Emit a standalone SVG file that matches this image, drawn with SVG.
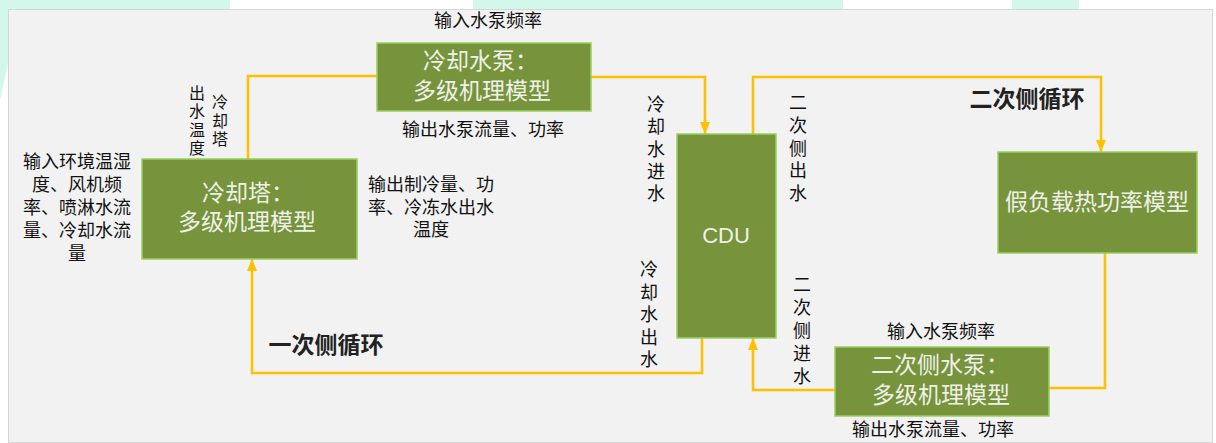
<svg xmlns="http://www.w3.org/2000/svg" width="1216" height="443" viewBox="0 0 1216 443">
  <defs>
    <style>
      .node { fill: #77933c; stroke: #9bd060; stroke-width: 1.5; }
      .nt { font-family: "Liberation Sans", "Noto Sans CJK SC", sans-serif; font-size: 23px; fill: #eef1e8; dominant-baseline: central; }
      .lbl { font-family: "Liberation Sans", "Noto Sans CJK SC", sans-serif; font-size: 18px; fill: #111; dominant-baseline: central; text-anchor: middle; }
      .sm { font-size: 16px; }
      .loop { font-family: "Liberation Sans", "Noto Sans CJK SC", sans-serif; font-size: 23px; font-weight: bold; fill: #222; dominant-baseline: central; text-anchor: middle; }
      .conn { fill: none; stroke: #ffc000; stroke-width: 2.5; }
    </style>
    <marker id="arr" markerUnits="userSpaceOnUse" markerWidth="12" markerHeight="12" refX="12" refY="5" orient="auto">
      <path d="M0,0 L12,5 L0,10 z" fill="#ffc000"/>
    </marker>
  </defs>

  <!-- background -->
  <rect x="0" y="0" width="1216" height="443" fill="#ffffff"/>
  <g id="watermark" fill="#d4f7ec">
    <rect x="0" y="0" width="230" height="10"/>
    <rect x="473" y="0" width="370" height="10"/>
    <rect x="1012" y="0" width="67" height="10"/>
    <polygon points="0,0 9,0 9,60 0,100"/>
  </g>
  <rect x="8.5" y="9.5" width="1204" height="433" fill="#f2f2f2" stroke="#d6d6d6" stroke-width="1"/>

  <!-- connectors -->
  <g id="connectors">
    <path class="conn" d="M248,159 V76 H377"/>
    <path class="conn" d="M591,77 H705 V134" marker-end="url(#arr)"/>
    <path class="conn" d="M702,338 V373 H252 V259" marker-end="url(#arr)"/>
    <path class="conn" d="M753,134 V77 H1101 V152" marker-end="url(#arr)"/>
    <path class="conn" d="M1105,253 V388 H1049"/>
    <path class="conn" d="M835,390 H753 V338" marker-end="url(#arr)"/>
  </g>

  <!-- nodes -->
  <g id="pump1">
    <rect class="node" x="377" y="43" width="214" height="68"/>
    <text class="nt" x="423" y="61">冷却水泵：</text>
    <text class="nt" x="413" y="91">多级机理模型</text>
  </g>
  <g id="tower">
    <rect class="node" x="142" y="159" width="215" height="100"/>
    <text class="nt" x="202" y="193">冷却塔：</text>
    <text class="nt" x="178" y="222">多级机理模型</text>
  </g>
  <g id="cdu">
    <rect class="node" x="677" y="134" width="99" height="204"/>
    <text x="726" y="235" font-family="Liberation Sans, Arial, sans-serif" font-size="22" fill="#eef1e8" text-anchor="middle" dominant-baseline="central">CDU</text>
  </g>
  <g id="load">
    <rect class="node" x="998" y="152" width="199" height="101"/>
    <text class="nt" x="1097" y="202" text-anchor="middle">假负载热功率模型</text>
  </g>
  <g id="pump2">
    <rect class="node" x="835" y="347" width="214" height="69"/>
    <text class="nt" x="871" y="365">二次侧水泵：</text>
    <text class="nt" x="872" y="395">多级机理模型</text>
  </g>

  <!-- labels -->
  <g id="labels">
    <text class="lbl" x="488" y="21">输入水泵频率</text>
    <text class="lbl" x="483" y="130">输出水泵流量、功率</text>
    <text class="lbl" x="77" y="162">输入环境温湿</text>
    <text class="lbl" x="77" y="185">度、风机频</text>
    <text class="lbl" x="77" y="208">率、喷淋水流</text>
    <text class="lbl" x="77" y="231">量、冷却水流</text>
    <text class="lbl" x="77" y="254">量</text>
    <text class="lbl" x="431" y="185">输出制冷量、功</text>
    <text class="lbl" x="431" y="208">率、冷冻水出水</text>
    <text class="lbl" x="431" y="230">温度</text>
    <text class="lbl sm"><tspan x="220" y="102">冷</tspan><tspan x="220" y="120.5">却</tspan><tspan x="220" y="139">塔</tspan></text>
    <text class="lbl sm"><tspan x="197" y="92.5">出</tspan><tspan x="197" y="111">水</tspan><tspan x="197" y="129.5">温</tspan><tspan x="197" y="148">度</tspan></text>
    <text class="lbl"><tspan x="656" y="105">冷</tspan><tspan x="656" y="127.3">却</tspan><tspan x="656" y="149.6">水</tspan><tspan x="656" y="171.9">进</tspan><tspan x="656" y="194.2">水</tspan></text>
    <text class="lbl"><tspan x="649" y="270">冷</tspan><tspan x="649" y="292.5">却</tspan><tspan x="649" y="315">水</tspan><tspan x="649" y="337.5">出</tspan><tspan x="649" y="360">水</tspan></text>
    <text class="lbl"><tspan x="798" y="103">二</tspan><tspan x="798" y="125.75">次</tspan><tspan x="798" y="148.5">侧</tspan><tspan x="798" y="171.25">出</tspan><tspan x="798" y="194">水</tspan></text>
    <text class="lbl"><tspan x="802" y="285">二</tspan><tspan x="802" y="308">次</tspan><tspan x="802" y="331">侧</tspan><tspan x="802" y="354">进</tspan><tspan x="802" y="377">水</tspan></text>
    <text class="lbl" x="941" y="332">输入水泵频率</text>
    <text class="lbl" x="933" y="430">输出水泵流量、功率</text>
    <text class="loop" x="1027" y="99">二次侧循环</text>
    <text class="loop" x="326" y="345">一次侧循环</text>
  </g>
</svg>
